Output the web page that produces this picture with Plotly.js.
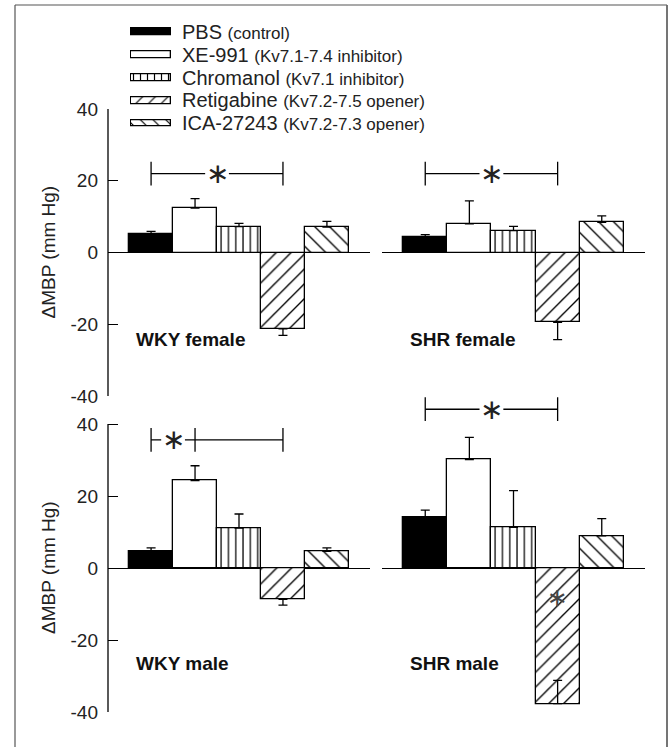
<!DOCTYPE html>
<html>
<head>
<meta charset="utf-8">
<script src="https://cdn.plot.ly/plotly-3.0.1.min.js"></script>
<style>html,body{margin:0;padding:0;background:#fff}#chart{width:670px;height:747px}</style>
</head>
<body>
<div id="chart"></div>
<script>
// ---------- data ----------
const treatments = ['PBS', 'XE-991', 'Chromanol', 'Retigabine', 'ICA-27243'];
const treatmentNotes = ['(control)', '(Kv7.1-7.4 inhibitor)', '(Kv7.1 inhibitor)', '(Kv7.2-7.5 opener)', '(Kv7.2-7.3 opener)'];
const panelLabels = ['WKY female', 'SHR female', 'WKY male', 'SHR male'];

const wkyFemale = [5.2, 12.4, 7.2, -21.3, 7.1];
const wkyFemaleErrUp = [0.7, 2.6, 0.9, 0, 1.6];
const wkyFemaleErrDown = [0, 0, 0, 1.8, 0];

const shrFemale = [4.3, 8.0, 6.1, -19.5, 8.4];
const shrFemaleErrUp = [0.7, 6.4, 1.2, 0, 1.8];
const shrFemaleErrDown = [0, 0, 0, 4.8, 0];

const wkyMale = [4.6, 24.3, 11.1, -8.7, 4.6];
const wkyMaleErrUp = [1.0, 4.1, 3.9, 0, 1.0];
const wkyMaleErrDown = [0, 0, 0, 1.6, 0];

const shrMale = [14.1, 30.1, 11.3, -37.7, 8.9];
const shrMaleErrUp = [2.0, 6.2, 10.2, 6.5, 4.8];
const shrMaleErrDown = [0, 0, 0, 0, 0];

const yTickVals = [-40, -20, 0, 20, 40];
const yTickText = ['-40', '-20', '0', '20', '40'];

// significance brackets: level (mm Hg) and category indices of end/inner ticks
const bracketLevels = [22, 22, 35.6, 44.1];
const bracketTicks = [[0, 3], [0, 3], [0, 1, 3], [0, 3]];
const starPositions = [1.5, 1.5, 0.5, 1.5];
const innerStar = {panel: 3, cat: 3, value: -8.3};

// ---------- style ----------
const FONT = 'Liberation Sans, Arial, Helvetica, sans-serif';
const fills = ['#000000', '#ffffff', '#ffffff', '#ffffff', '#ffffff'];
const patShapes = ['', '', '|', '/', '\\'];
const patSizes = [8, 8, 7.3, 10.5, 10.5];
const patSolid = [0.15, 0.15, 0.17, 0.13, 0.13];
const LW = 1.3;

const W = 670, H = 747;
const px2x = p => p / W;
const px2y = p => 1 - p / H;
const xDomL = [px2x(108), px2x(370)];
const xDomR = [px2x(382), px2x(645)];
const yDomTop = [px2y(396), px2y(109)];
const yRangeTop = [-40, 40];
const yRangeBot = [-40, 48];
const yDomBot = [px2y(712), px2y(712 - 88 * 3.6)];
const xRange = [-0.98, 4.98];

const panels = [
  {xa: 'x', ya: 'y', y: wkyFemale, up: wkyFemaleErrUp, down: wkyFemaleErrDown},
  {xa: 'x2', ya: 'y2', y: shrFemale, up: shrFemaleErrUp, down: shrFemaleErrDown},
  {xa: 'x3', ya: 'y3', y: wkyMale, up: wkyMaleErrUp, down: wkyMaleErrDown},
  {xa: 'x4', ya: 'y4', y: shrMale, up: shrMaleErrUp, down: shrMaleErrDown}
];

function markerFor(k, sizeOverride) {
  const m = {color: fills[k], line: {color: '#000', width: LW}};
  if (patShapes[k]) {
    m.pattern = {shape: patShapes[k], size: sizeOverride || patSizes[k], solidity: patSolid[k],
      fgcolor: '#000000', bgcolor: '#ffffff', fillmode: 'replace'};
  }
  return m;
}

const traces = [];
panels.forEach(p => {
  treatments.forEach((t, k) => {
    traces.push({
      type: 'bar', x: [t], y: [p.y[k]], xaxis: p.xa, yaxis: p.ya, width: 1,
      marker: markerFor(k),
      error_y: {type: 'data', symmetric: false, array: [p.up[k]], arrayminus: [p.down[k]],
        color: '#000', thickness: LW, width: 4.5},
      showlegend: false, hoverinfo: 'skip'
    });
  });
});

// legend swatches (small horizontal bars)
const legendSwatchSizes = [8, 8, 7, 9, 9];
treatments.forEach((t, k) => {
  traces.push({
    type: 'bar', orientation: 'h', y: [t], x: [1], xaxis: 'x5', yaxis: 'y5', width: 0.3,
    marker: markerFor(k, legendSwatchSizes[k]), showlegend: false, hoverinfo: 'skip'
  });
});

function yAxis(domain, range, shown, anchor) {
  return {
    domain: domain, range: range, anchor: anchor, fixedrange: true,
    showgrid: false, zeroline: true, zerolinecolor: '#000', zerolinewidth: LW,
    showline: false,
    tickvals: yTickVals, ticktext: yTickText,
    ticks: shown ? 'inside' : '', ticklen: 10, tickwidth: LW, tickcolor: '#000',
    showticklabels: shown, ticklabelstandoff: 9,
    tickfont: {family: FONT, size: 19, color: '#222'}
  };
}
function xAxis(domain, anchor) {
  return {domain: domain, range: xRange, anchor: anchor, type: 'category', categoryarray: treatments,
    showgrid: false, zeroline: false, showline: false, ticks: '', showticklabels: false, fixedrange: true};
}

const shapes = [];
const annotations = [];
const line = (xref, yref, x0, y0, x1, y1, w, c) => shapes.push({type: 'line', xref, yref, x0, y0, x1, y1,
  line: {color: c || '#000', width: w || LW}});

// y-axis spines of left panels (from -40 to 40)
function y2paper(v, dom, rng) { return dom[0] + (v - rng[0]) / (rng[1] - rng[0]) * (dom[1] - dom[0]); }
line('paper', 'paper', xDomL[0], y2paper(yTickVals[0], yDomTop, yRangeTop), xDomL[0], y2paper(yTickVals[4], yDomTop, yRangeTop));
line('paper', 'paper', xDomL[0], y2paper(yTickVals[0], yDomBot, yRangeBot), xDomL[0], y2paper(yTickVals[4], yDomBot, yRangeBot));

// brackets
const halfTick = 3.3, starGap = 0.27;
panels.forEach((p, i) => {
  const lev = bracketLevels[i], t = bracketTicks[i], s = starPositions[i];
  const x0 = t[0], x1 = t[t.length - 1];
  line(p.xa, p.ya, x0, lev, s - starGap, lev);
  line(p.xa, p.ya, s + starGap, lev, x1, lev);
  t.forEach(tx => line(p.xa, p.ya, tx, lev - halfTick, tx, lev + halfTick));
  annotations.push({xref: p.xa, yref: p.ya, x: s, y: lev, text: '\u2217', showarrow: false,
    xanchor: 'center', yanchor: 'middle', font: {family: 'DejaVu Sans', size: 28, color: '#222'}});
  annotations.push({xref: p.xa, yref: p.ya, x: -0.38, y: i < 2 ? -24.2 : -26.4, text: '<b>' + panelLabels[i] + '</b>',
    showarrow: false, xanchor: 'left', yanchor: 'middle', font: {family: FONT, size: 19, color: '#111'}});
});
annotations.push({xref: panels[innerStar.panel].xa, yref: panels[innerStar.panel].ya, x: innerStar.cat, y: innerStar.value,
  text: '\u2217', showarrow: false, xanchor: 'center', yanchor: 'middle', font: {family: 'DejaVu Sans', size: 25, color: '#444'}});

// y-axis titles
[yDomTop, yDomBot].forEach((d, i) => {
  const rng = i === 0 ? yRangeTop : yRangeBot;
  annotations.push({xref: 'paper', yref: 'paper', x: px2x(48), y: y2paper(0, d, rng), text: '\u0394MBP (mm Hg)',
    textangle: -90, showarrow: false, xanchor: 'center', yanchor: 'middle', font: {family: FONT, size: 19, color: '#222'}});
});

// legend text
treatments.forEach((t, i) => {
  annotations.push({xref: 'paper', yref: 'y5', x: px2x(180), y: i, showarrow: false, xanchor: 'left', yanchor: 'middle',
    text: t + ' <span style="font-size:17px">' + treatmentNotes[i] + '</span>',
    font: {family: FONT, size: 20, color: '#222'}});
});

// outer frame (left, top, right)
line('paper', 'paper', px2x(15), 0, px2x(15), px2y(5), 1.2, '#555');
line('paper', 'paper', px2x(15), px2y(5), px2x(667), px2y(5), 1.2, '#555');
line('paper', 'paper', px2x(667), 0, px2x(667), px2y(5), 1.8, '#666');

const layout = {
  width: W, height: H, margin: {l: 0, r: 0, t: 0, b: 0},
  paper_bgcolor: '#fff', plot_bgcolor: 'rgba(0,0,0,0)',
  barmode: 'overlay', bargap: 0, showlegend: false,
  font: {family: FONT, color: '#222'},
  xaxis: xAxis(xDomL, 'y'), yaxis: yAxis(yDomTop, yRangeTop, true, 'x'),
  xaxis2: xAxis(xDomR, 'y2'), yaxis2: yAxis(yDomTop, yRangeTop, false, 'x2'),
  xaxis3: xAxis(xDomL, 'y3'), yaxis3: yAxis(yDomBot, yRangeBot, true, 'x3'),
  xaxis4: xAxis(xDomR, 'y4'), yaxis4: yAxis(yDomBot, yRangeBot, false, 'x4'),
  xaxis5: {domain: [px2x(130), px2x(172)], range: [-0.03, 1.03], anchor: 'y5', visible: false, fixedrange: true},
  yaxis5: {domain: [px2y(134.75), px2y(20.25)], range: [4.5, -0.5], type: 'category', categoryarray: treatments,
    anchor: 'x5', visible: false, fixedrange: true},
  shapes: shapes, annotations: annotations
};

Plotly.newPlot('chart', traces, layout, {displayModeBar: false});
</script>
</body>
</html>
